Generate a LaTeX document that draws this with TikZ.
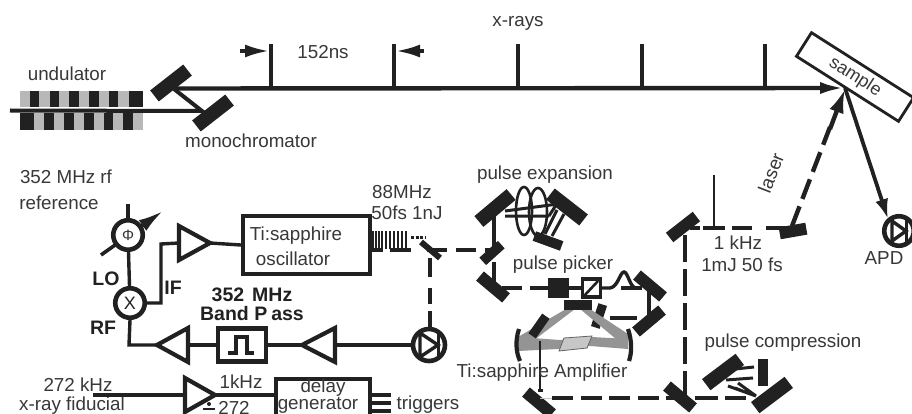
\documentclass[tikz,border=0pt]{standalone}
\usepackage{fontspec}
\setmainfont{Liberation Sans}
\usetikzlibrary{arrows.meta}
\definecolor{ink}{gray}{0.13}
\definecolor{txt}{gray}{0.22}
\definecolor{band}{gray}{0.72}
\definecolor{beamgrey}{gray}{0.58}
\definecolor{xtal}{gray}{0.78}
\tikzset{
 lab/.style={font=\fontsize{18.8}{20}\selectfont,text=txt,inner sep=0pt,align=center},
 bold lab/.style={font=\fontsize{19.5}{20}\selectfont\bfseries,text=ink,inner sep=0pt,align=center},
 wire/.style={draw=ink,line width=3.4pt},
 thin wire/.style={draw=ink,line width=2.4pt},
 beam/.style={draw=ink,line width=4.4pt,dash pattern=on 21pt off 8pt},
 boxn/.style={draw=ink,line width=4.2pt,fill=white,inner sep=0pt},
 mirror/.style={fill=ink,inner sep=0pt,minimum height=12pt,minimum width=34pt},
 big mirror/.style={fill=ink,inner sep=0pt,minimum height=14pt,minimum width=42pt},
 small mirror/.style={fill=ink,inner sep=0pt,minimum height=9pt,minimum width=24pt},
 circ/.style={circle,draw=ink,line width=4.6pt,fill=white,inner sep=0pt,minimum size=29.5pt},
 amp/.style={draw=ink,line width=4.2pt,line join=miter,fill=white},
 tick/.style={draw=ink,line width=3.6pt},
}
\begin{document}
\begin{tikzpicture}[x=1pt,y=-1pt]
\clip (0,0) rectangle (912,414);
\fill[white] (0,0) rectangle (912,414);
% ---------- undulator
\fill[band] (20,91) rectangle (143,107);
\fill[band] (20,113) rectangle (143,130);
\foreach \a/\b in {30/39,50/59,69/79,89/99,109/118,129/143}{\fill[ink] (\a,91) rectangle (\b,107);}
\foreach \a/\b in {20/34,44/54,64/74,84/94,104/113,123/133}{\fill[ink] (\a,113) rectangle (\b,130);}
\node[lab] (undulator) at (67,74) {undulator};
\node[lab] (mono) at (251,141) {monochromator};
\node[lab] (xrays) at (518,23) {x-rays};
\node[lab] (t152) at (323,52) {152ns};
% ---------- x-ray path
\coordinate (src) at (10,110.5);
\coordinate (mlow) at (202,111);
\coordinate (mup) at (174,89);
\coordinate (spot) at (845,88);
\node[big mirror,rotate=38] (mono1) at (171,83) {};
\node[big mirror,rotate=38] (mono2) at (213,113) {};
\draw[wire,line width=4pt] (src) -- (mlow) -- (mup);
\draw[wire,line width=4.4pt,-{Latex[length=25pt,width=12pt]}] (176,88.5) -- (spot);
\foreach \x in {271,394,518,642,765}{\draw[tick] (\x,44) -- (\x,86);}
\coordinate (al) at (240,51); \coordinate (ar) at (424,51);
\draw[wire,-{Latex[length=24pt,width=13pt]}] (al) -- (269,51);
\draw[wire,-{Latex[length=24pt,width=13pt]}] (ar) -- (396,51);
% ---------- sample
\node[draw=ink,line width=2.8pt,fill=white,rotate=-32.5,minimum width=121pt,minimum height=28pt,inner sep=0pt,font=\fontsize{18}{20}\selectfont,text=txt] (sample) at (855,77) {sample};
% ---------- laser out & APD
\node[mirror,minimum width=27pt,rotate=10] (lm) at (793,231) {};
\node[circ] (apd) at (899,231) {};
\draw[draw=ink,line width=3.4pt,fill=white] (892,221) -- (892,241) -- (906,231) -- cycle;
\draw[draw=ink,line width=3pt] (906,220) -- (906,242);
\draw[wire,line width=3.8pt,-{Latex[length=20pt,width=13pt]}] (spot) -- (888,219);
\draw[beam,line width=4.4pt] (792,226) -- (830,127);
\draw[draw=ink,line width=4.4pt,-{Latex[length=24pt,width=15pt]}] (830,129) -- (845,89);
\node[lab] (apdl) at (884,258) {APD};
\node[lab,rotate=69] (laserl) at (771,173) {laser};
\node[lab] (k1) at (738,243) {1 kHz};
\node[lab] (k2) at (742,265) {1mJ 50 fs};
% ---------- rf chain
\node[lab] (rf1) at (66,177) {352 MHz rf};
\node[lab] (rf2) at (59,203) {reference};
\coordinate (phitop) at (128,204);
\draw[draw=ink,line width=3.6pt,-{Latex[length=25pt,width=13pt]}] (101,255) -- (163,211);
\node[circ] (phi) at (128,235) {};
\node[font=\fontsize{15}{16}\selectfont,text=txt,inner sep=0pt] at (128,235) {Φ};
\draw[wire] (phitop) -- (phi.north);
\node[circ] (mix) at (130,303) {};
\node[font=\fontsize{18}{20}\selectfont,text=ink,inner sep=0pt] at (130,303) {X};
\draw[wire] (phi) -- (mix);
\node[bold lab] at (106,279) {LO};
\node[bold lab] at (173,288) {IF};
\node[bold lab] at (103,328) {RF};
\coordinate (a1a) at (179,243); \coordinate (a1b) at (210,243);
\draw[wire] (mix.east) -- (161,303) -- (161,244) -- (a1a);
\draw[amp] (179,226) -- (179,260) -- (210,243) -- cycle;
\node[boxn,minimum width=127pt,minimum height=58pt] (osc) at (306.5,245) {};
\node[lab] at (296,236) {Ti:sapphire};
\node[lab] at (293,259) {oscillator};
\draw[wire] (a1b) -- (osc.west);
\node[lab] at (402,192) {88MHz};
\node[lab] at (407,213) {50fs 1nJ};
% pulse train
\foreach \x in {373,376,379,382,386,390,394,398,402,406}{\draw[draw=ink,line width=2.3pt] (\x,231) -- (\x,249);}
\draw[draw=ink,line width=4pt] (371,250) -- (383,250) (390,250) -- (411,250);
\draw[draw=ink,line width=3pt,dash pattern=on 3pt off 1.5pt] (411,237) -- (425,237);
% first splitter & photodiode
\node[circ,minimum size=32pt] (pd) at (429,345) {};
\draw[draw=ink,line width=3.4pt,fill=white] (420,333) -- (420,357) -- (438,345) -- cycle;
\draw[draw=ink,line width=3pt] (438,333) -- (438,357);
\draw[beam] (430,327) -- (430,311) (430,304) -- (430,288) (430,277) -- (430,258);
\draw[draw=ink,line width=6pt] (421,242) -- (440,258);
\draw[beam,dash pattern=on 20pt off 9pt] (427,250) -- (490,250);
% rf return
\coordinate (a2t) at (302,345);
\coordinate (a3t) at (157,345);
\node[boxn,minimum width=48pt,minimum height=33pt] (bp) at (242,345) {};
\draw[draw=ink,line width=3.6pt] (228,353) -- (236,353) -- (236,337) -- (247,337) -- (247,353) -- (254,353);
\draw[wire] (pd.west) -- (a2t);
\draw[amp] (302,345) -- (335,328) -- (335,362) -- cycle;
\draw[wire] (a2t) -- (bp.east);
\draw[wire] (bp.west) -- (a3t);
\draw[amp] (157,345) -- (188,328) -- (188,362) -- cycle;
\draw[wire] (a3t) -- (129,345) -- (mix.south);
\node[bold lab] at (252,295) {352\hspace{8pt}MHz};
\node[bold lab] at (252,314) {Band P\hspace{4pt}ass};
% ---------- fiducial
\node[lab] (f1) at (78,385) {272 kHz};
\node[lab] (f2) at (72,406) {x-ray fiducial};
\coordinate (fin) at (93,395);
\node[boxn,minimum width=94pt,minimum height=42pt,anchor=north west] (dg) at (274,377) {};
\draw[wire] (fin) -- (185,395);
\draw[wire] (215,395) -- (dg.west |- 0,395);
\draw[amp] (185,378) -- (185,412) -- (215,395) -- cycle;
\node[lab] at (241,382) {1kHz};
\node[lab] at (234,408) {272};
\draw[draw=ink,line width=2.5pt] (203,409) -- (215,409);
\fill[ink] (209,404) circle (2pt);
\node[lab] at (323,388) {delay};
\node[lab] at (318,405) {generator};
\foreach \y in {395,403,411}{\draw[draw=ink,line width=3.6pt] (372,\y) -- (391,\y);}
\node[lab] (trig) at (428,405) {triggers};
% ---------- pulse expansion
\node[lab] at (545,175) {pulse expansion};
\node[big mirror,rotate=40] (pe1) at (495,208) {};
\node[big mirror,rotate=-38] (pe2) at (567,207) {};
\node[mirror,minimum width=29pt,minimum height=10pt,rotate=-20] (pe3) at (548,241) {};
\draw[draw=ink,line width=2.6pt] (524,211) ellipse (8pt and 24pt);
\draw[draw=ink,line width=2.6pt] (538,212) ellipse (9pt and 24pt);
\draw[thin wire,line width=3pt] (505,211) -- (558,204) (505,216) -- (549,216) (549,216) -- (556,205) (545,234) -- (557,210) (552,236) -- (564,214);
\node[mirror,minimum width=25pt,minimum height=10pt,rotate=42] (pe4) at (492,253) {};
\draw[wire,line width=3.6pt] (494,213) -- (494,250);
% ---------- picker line
\node[mirror,rotate=-40] (pp1) at (493,287) {};
\draw[wire,line width=3.6pt] (494,262) -- (494,288);
\node[lab] at (563,265) {pulse picker};
\draw[beam] (502,288) -- (522,288) (530,288) -- (550,288);
\node[fill=ink,minimum width=21pt,minimum height=20pt,inner sep=0pt] (pc) at (558,288) {};
\node[draw=ink,line width=3.2pt,minimum width=18pt,minimum height=18pt,inner sep=0pt,fill=white] (pol) at (591.5,288) {};
\draw[draw=ink,line width=2.6pt] (584,296) -- (598,281);
\draw[wire] (pc) -- (pol);
\draw[wire] (pol.east) -- (610,288) .. controls (618,287) and (620,272) .. (624,272) .. controls (628,272) and (630,288) .. (636,288);
\draw[wire] (621,288) -- (642,288);
\node[mirror,rotate=-40] (pp2) at (650,286) {};
\node[mirror,rotate=40] (pp3) at (649,321) {};
\draw[wire] (649,288) -- (649,320);
\draw[wire,line width=4pt] (610,317.5) -- (637,317.5);
\node[small mirror,rotate=72] (pp4) at (599,316) {};
% ---------- amplifier
\fill[beamgrey] (518,337) -- (566,309) -- (575,309) -- (521,350) -- cycle;
\fill[beamgrey] (580,309) -- (590,309) -- (628,334) -- (628,349) -- cycle;
\fill[beamgrey] (518,337) -- (560,340) -- (592,337) -- (628,339) -- (628,349) -- (590,346) -- (558,349) -- (518,351) -- cycle;
\draw[draw=ink!70,line width=.8pt,fill=xtal] (564,338) -- (592,336) -- (587,348) -- (559,351) -- cycle;
\node[fill=ink,minimum width=28pt,minimum height=10pt,inner sep=0pt] (ampbox) at (578,305) {};
\draw[draw=ink,line width=4.2pt] (519,329) .. controls (515,341) and (516,352) .. (520,361);
\draw[draw=ink,line width=4.2pt] (628,329) .. controls (632,341) and (632,352) .. (629,361);
\node[small mirror,rotate=55] (am1) at (539,326) {};
\draw[thin wire] (540,341) -- (540,389);
\node[lab] at (542,373) {Ti:sapphire Amplifier};
\fill[ink] (538,389) rectangle (543,392);
% ---------- lower path
\node[mirror,rotate=-40] (lo1) at (539,403) {};
\node[mirror,rotate=-40] (lo2) at (680,397) {};
\draw[beam,dash pattern=on 21pt off 7.5pt] (552,398) -- (700,398);
\draw[draw=ink!25,line width=.5pt] (540,398) -- (552,398);
% ---------- vertical
\node[mirror,rotate=38] (up1) at (683,227) {};
\draw[beam,dash pattern=on 27pt off 7pt] (685,398) -- (685,229);
\draw[beam,dash pattern=on 20pt off 9pt] (690,228) -- (700,228) (732,228) -- (760,228) (766,228) -- (790,228);
\draw[draw=ink,line width=4.4pt] (703,228) -- (725,228);
\draw[thin wire] (714,175) -- (714,226);
% ---------- compression
\node[lab] at (783,343) {pulse compression};
\node[big mirror,rotate=37] (pc1) at (723,372) {};
\node[big mirror,rotate=37] (pc2) at (772,395) {};
\node[fill=ink,minimum width=10pt,minimum height=27pt,inner sep=0pt] (pc3) at (763,372) {};
\draw[draw=ink,line width=3pt] (735,369) -- (754,367) (726,380) -- (753,378) (728,386) -- (756,396) (738,383) -- (756,396) (735,388) -- (750,394);
\draw[draw=ink,line width=4.4pt,dash pattern=on 21pt off 7pt] (697,398) -- (752,398);
\end{tikzpicture}
\end{document}
